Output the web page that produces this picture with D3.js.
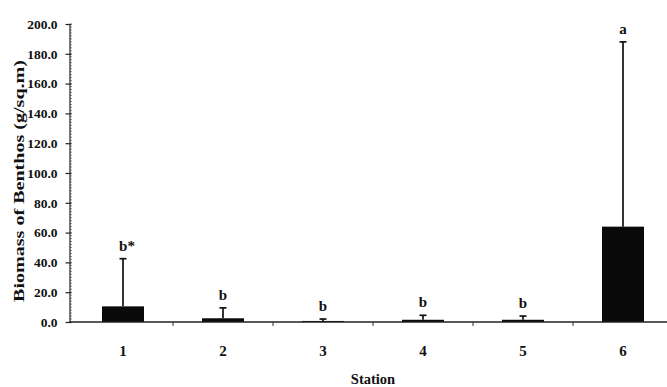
<!DOCTYPE html>
<html><head><meta charset="utf-8">
<script src="https://cdn.jsdelivr.net/npm/d3@7"></script>
<style>body{margin:0;background:#fff}svg{display:block}</style>
</head><body>
<script>
const stations = ["1","2","3","4","5","6"];
const means = [10.5, 2.5, 0.7, 1.5, 1.5, 64];
const errTops = [42.5, 9.5, 2, 4.5, 4, 188];
const letters = ["b*","b","b","b","b","a"];
const yTicks = [0,20,40,60,80,100,120,140,160,180,200];

const W=667,H=387;
const svg=d3.select("body").append("svg").attr("width",W).attr("height",H);
const x=d3.scaleBand().domain(stations).range([73,673]).paddingInner(0.58).paddingOuter(0.29);
const y=d3.scaleLinear().domain([0,200]).range([322,24]);
const font="Liberation Serif, Times New Roman, serif";
const ink="#111";

// y axis
const ya=svg.append("g").attr("transform","translate(69.5,0)")
  .call(d3.axisLeft(y).tickValues(yTicks).tickFormat(d3.format(".1f")).tickSize(4).tickSizeOuter(0).tickPadding(8));
ya.select(".domain").attr("stroke","#222").attr("stroke-width",1.2);
ya.selectAll(".tick line").attr("x2",-4).attr("x1",2).attr("stroke","#222").attr("stroke-width",1.2);
ya.selectAll("text").attr("font-family",font).attr("font-weight","bold").attr("font-size",13.5).attr("fill",ink);
// minor ticks
svg.append("g").selectAll("line").data(d3.range(0,201,2)).join("line")
  .attr("x1",69.5).attr("x2",72).attr("y1",d=>y(d)).attr("y2",d=>y(d)).attr("stroke","#555").attr("stroke-width",0.7);

// bars
svg.append("g").selectAll("rect").data(stations).join("rect")
  .attr("x",d=>x(d)).attr("width",x.bandwidth())
  .attr("y",(d,i)=>y(means[i])).attr("height",(d,i)=>y(0)-y(means[i]))
  .attr("fill","#0a0a0a");

// error bars
const eb=svg.append("g").attr("stroke",ink).attr("stroke-width",1.7);
eb.selectAll("line.v").data(stations).join("line").attr("class","v")
  .attr("x1",d=>x(d)+x.bandwidth()/2).attr("x2",d=>x(d)+x.bandwidth()/2)
  .attr("y1",(d,i)=>y(means[i])).attr("y2",(d,i)=>y(errTops[i]));
eb.selectAll("line.h").data(stations).join("line").attr("class","h")
  .attr("x1",d=>x(d)+x.bandwidth()/2-3.5).attr("x2",d=>x(d)+x.bandwidth()/2+3.5)
  .attr("y1",(d,i)=>y(errTops[i])).attr("y2",(d,i)=>y(errTops[i]));

// letters
svg.append("g").selectAll("text").data(stations).join("text")
  .attr("x",d=>x(d)+x.bandwidth()/2+(d==="1"?4:0)).attr("y",(d,i)=>y(errTops[i])-8)
  .attr("text-anchor","middle").attr("font-family",font).attr("font-weight","bold").attr("font-size",15).attr("fill",ink)
  .text((d,i)=>letters[i]);

// x axis
svg.append("line").attr("x1",69.5).attr("x2",667).attr("y1",y(0)).attr("y2",y(0)).attr("stroke","#222").attr("stroke-width",1.4);
svg.append("g").selectAll("line").data(stations.slice(0,5)).join("line")
  .attr("x1",d=>x(d)+x.bandwidth()/2+50).attr("x2",d=>x(d)+x.bandwidth()/2+50)
  .attr("y1",y(0)).attr("y2",y(0)+4).attr("stroke","#333");
svg.append("g").selectAll("text").data(stations).join("text")
  .attr("x",d=>x(d)+x.bandwidth()/2).attr("y",356).attr("text-anchor","middle")
  .attr("font-family",font).attr("font-weight","bold").attr("font-size",15).attr("fill",ink).text(d=>d);

svg.append("text").attr("x",373).attr("y",384).attr("text-anchor","middle")
  .attr("font-family",font).attr("font-weight","bold").attr("font-size",14.5).attr("fill",ink).text("Station");
svg.append("text").attr("transform","translate(24,181) rotate(-90)").attr("text-anchor","middle")
  .attr("textLength",242).attr("lengthAdjust","spacingAndGlyphs")
  .attr("font-family",font).attr("font-weight","bold").attr("font-size",15).attr("fill",ink).text("Biomass of Benthos (g/sq.m)");
</script>
</body></html>
